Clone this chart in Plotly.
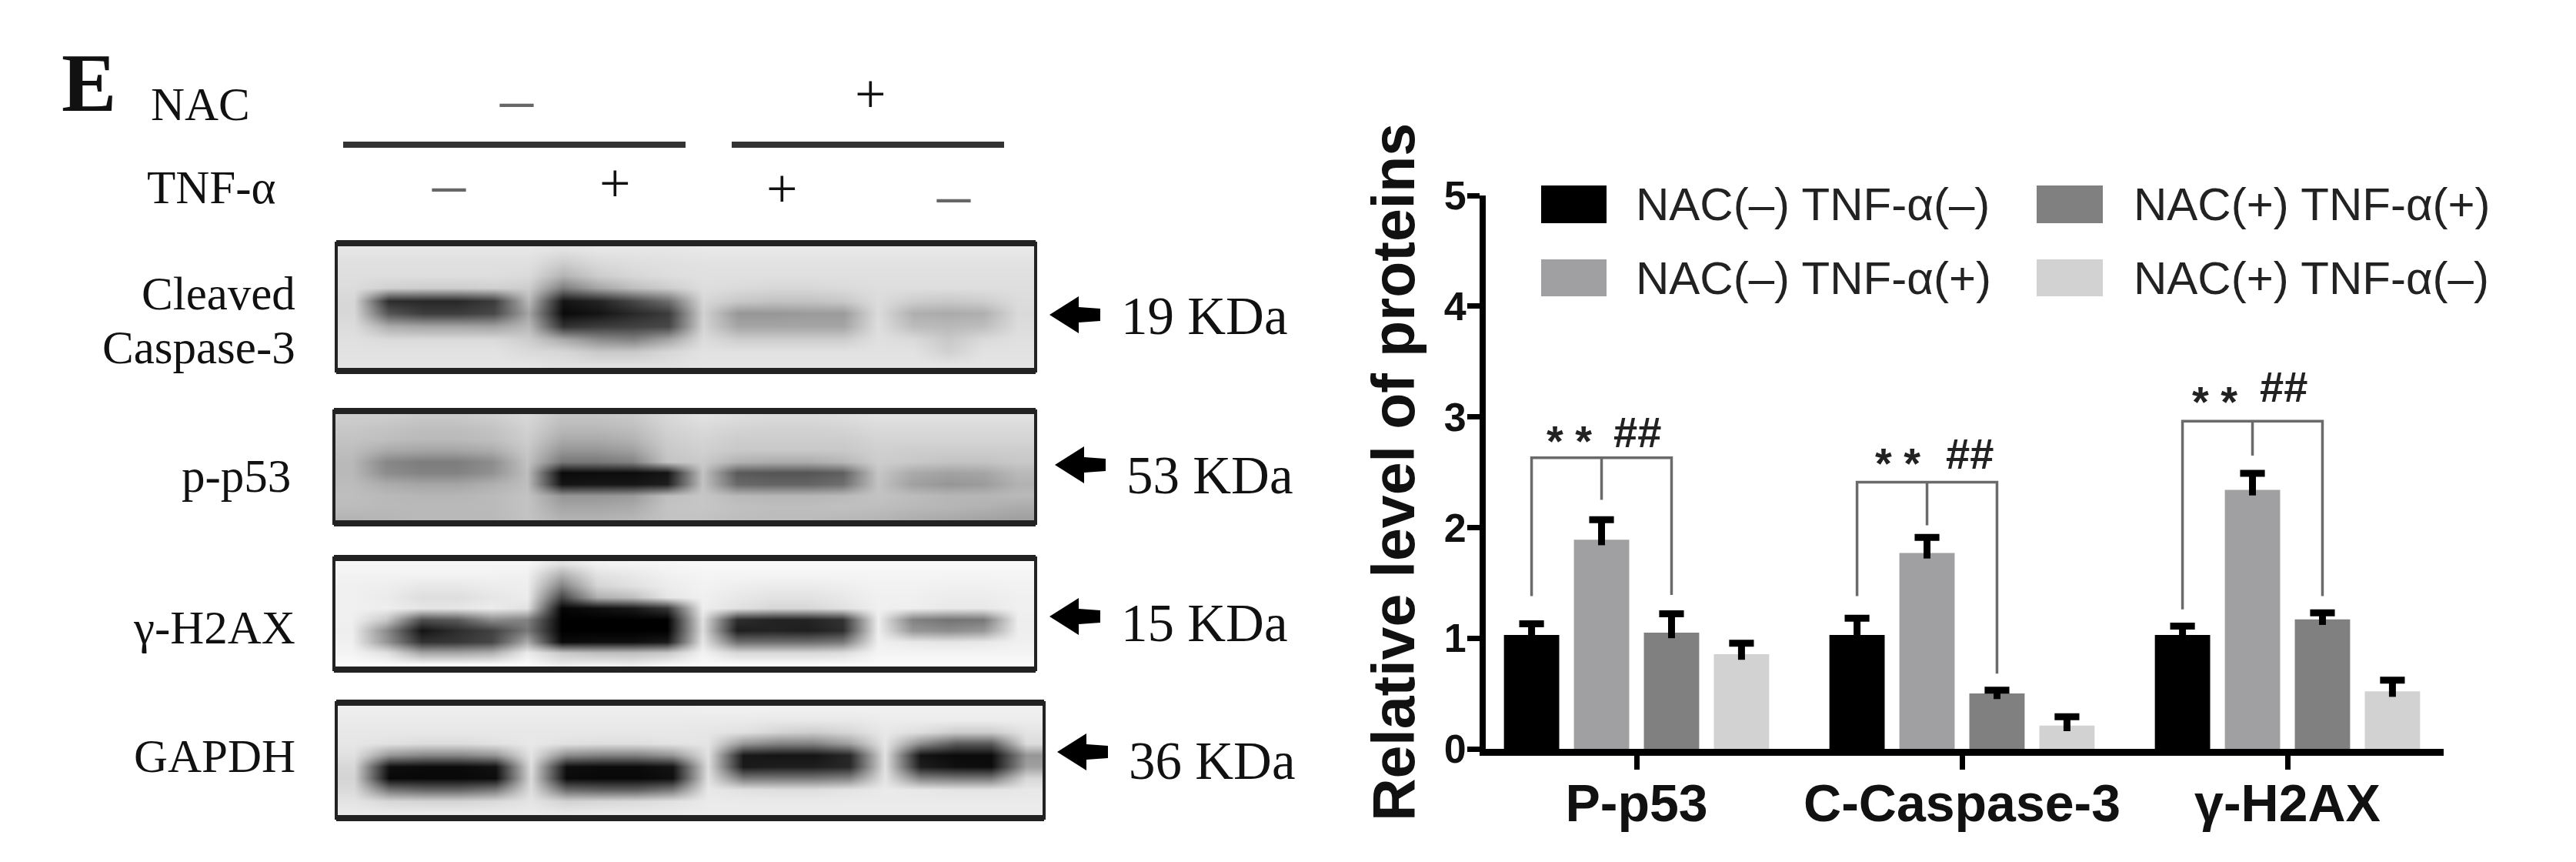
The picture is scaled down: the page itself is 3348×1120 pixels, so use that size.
"""Western blot panels with the bar chart of relative protein levels."""
import plotly.graph_objects as go

W, H = 3348, 1120
PAGE_MARGIN = 8  # the page puts this much white round the plot

# bar chart data
GROUPS = ["P-p53", "C-Caspase-3", "γ-H2AX"]
SERIES = ["NAC(–) TNF-α(–)", "NAC(–) TNF-α(+)", "NAC(+) TNF-α(+)", "NAC(+) TNF-α(–)"]
COLORS = ["#000000", "#a0a0a3", "#808080", "#d2d2d2"]
NEG_NEG = [1.03, 1.03, 1.03]
NEG_POS = [1.89, 1.77, 2.34]
POS_POS = [1.05, 0.50, 1.17]
POS_NEG = [0.855, 0.21, 0.52]
ERR_NEG_NEG = [0.10, 0.15, 0.08]
ERR_NEG_POS = [0.18, 0.14, 0.15]
ERR_POS_POS = [0.17, 0.03, 0.06]
ERR_POS_NEG = [0.10, 0.08, 0.10]

# significance brackets, one entry per group
BRACKET_TOP = [2.63, 2.41, 2.96]
BRACKET_LEFT_END = [1.38, 1.38, 1.26]
BRACKET_MID_END = [2.25, 2.02, 2.65]
BRACKET_RIGHT_END = [1.39, 0.68, 1.38]

# blot grey levels, 0 black to 255 white
CASPASE_GREY = [
    [230, 230, 230, 230, 230, 230, 226, 230, 230, 230, 232, 232, 232, 232, 232, 232, 232, 232, 232, 232],
    [224, 224, 224, 224, 224, 224, 205, 218, 222, 224, 226, 226, 226, 226, 226, 226, 226, 226, 226, 226],
    [222, 222, 222, 222, 222, 218, 180, 205, 215, 222, 224, 224, 224, 224, 224, 224, 224, 224, 224, 224],
    [220, 208, 205, 205, 208, 205, 125, 165, 190, 205, 222, 218, 215, 215, 218, 222, 222, 222, 222, 222],
    [215, 45, 40, 40, 60, 185, 20, 35, 70, 110, 215, 200, 195, 195, 200, 220, 205, 200, 205, 220],
    [215, 85, 60, 60, 72, 165, 10, 20, 40, 60, 210, 150, 150, 155, 155, 220, 175, 170, 175, 218],
    [220, 172, 165, 165, 162, 185, 50, 60, 65, 72, 212, 165, 165, 165, 165, 222, 188, 185, 190, 220],
    [224, 218, 218, 218, 218, 205, 170, 140, 130, 165, 220, 205, 205, 205, 205, 224, 218, 200, 218, 224],
    [226, 226, 226, 226, 226, 218, 215, 200, 200, 215, 226, 226, 226, 226, 226, 226, 226, 208, 226, 226],
    [228, 228, 228, 228, 228, 228, 224, 224, 224, 224, 228, 228, 228, 228, 228, 228, 228, 228, 228, 228],
]
P53_GREY = [
    [205, 205, 200, 200, 205, 215, 195, 195, 200, 215, 225, 220, 218, 218, 220, 225, 225, 225, 225, 225],
    [200, 195, 190, 190, 195, 210, 185, 185, 190, 210, 218, 212, 210, 210, 212, 218, 218, 218, 218, 218],
    [195, 190, 185, 185, 190, 205, 170, 170, 178, 205, 212, 205, 205, 205, 205, 212, 212, 212, 212, 212],
    [190, 170, 165, 165, 172, 200, 150, 150, 160, 200, 208, 200, 200, 200, 200, 208, 205, 205, 205, 205],
    [185, 135, 125, 125, 140, 195, 120, 120, 130, 195, 202, 178, 172, 172, 182, 205, 200, 195, 195, 200],
    [185, 140, 130, 130, 145, 190, 10, 12, 12, 20, 195, 90, 85, 85, 95, 198, 170, 162, 165, 185],
    [188, 172, 165, 165, 175, 190, 20, 22, 22, 30, 195, 105, 100, 100, 110, 195, 160, 150, 155, 178],
    [190, 185, 182, 182, 186, 195, 150, 150, 155, 190, 198, 185, 182, 182, 186, 195, 188, 182, 182, 185],
    [188, 185, 185, 185, 186, 195, 165, 165, 170, 195, 198, 192, 190, 190, 192, 190, 185, 182, 178, 172],
    [180, 182, 185, 185, 185, 195, 178, 178, 182, 195, 195, 190, 188, 188, 185, 182, 175, 170, 165, 160],
]
H2AX_GREY = [
    [246, 246, 246, 246, 246, 246, 225, 242, 244, 246, 248, 248, 248, 248, 248, 248, 248, 248, 248, 248],
    [242, 242, 242, 242, 242, 240, 175, 225, 232, 240, 244, 244, 244, 244, 244, 244, 244, 244, 244, 244],
    [240, 238, 232, 232, 236, 238, 130, 212, 225, 236, 242, 238, 235, 235, 238, 242, 242, 240, 240, 242],
    [240, 235, 222, 222, 230, 236, 70, 175, 190, 230, 240, 232, 226, 226, 232, 240, 240, 236, 236, 240],
    [240, 238, 230, 230, 236, 225, 5, 15, 25, 55, 238, 225, 215, 215, 225, 240, 238, 232, 232, 240],
    [240, 200, 80, 90, 140, 130, 0, 0, 0, 0, 225, 45, 35, 35, 50, 238, 130, 115, 120, 238],
    [238, 140, 20, 45, 65, 120, 0, 0, 0, 0, 222, 30, 35, 30, 45, 238, 150, 140, 150, 238],
    [240, 150, 50, 55, 70, 170, 10, 15, 15, 25, 230, 110, 110, 110, 120, 240, 232, 228, 232, 240],
    [244, 225, 165, 165, 175, 235, 200, 190, 190, 200, 242, 215, 215, 215, 220, 244, 244, 244, 244, 244],
    [250, 250, 250, 250, 250, 250, 235, 240, 235, 245, 250, 250, 250, 250, 250, 250, 250, 250, 250, 250],
]
GAPDH_GREY = [
    [238, 238, 238, 238, 238, 238, 238, 238, 238, 238, 240, 240, 240, 240, 240, 240, 240, 240, 240, 240],
    [234, 234, 234, 234, 234, 234, 234, 234, 234, 234, 234, 234, 232, 232, 232, 236, 236, 236, 236, 236],
    [232, 232, 232, 232, 232, 232, 232, 232, 232, 232, 230, 225, 212, 205, 215, 232, 222, 205, 205, 228],
    [230, 225, 220, 220, 225, 232, 225, 222, 222, 228, 228, 150, 130, 130, 160, 230, 140, 90, 90, 220],
    [225, 150, 135, 135, 150, 228, 140, 130, 130, 150, 225, 25, 20, 20, 40, 226, 20, 10, 10, 150],
    [215, 15, 10, 10, 18, 222, 15, 10, 10, 20, 222, 25, 30, 30, 40, 225, 30, 15, 12, 160],
    [212, 8, 8, 8, 12, 218, 10, 8, 8, 15, 225, 120, 120, 120, 130, 228, 130, 120, 120, 215],
    [218, 115, 100, 100, 120, 222, 105, 95, 95, 120, 232, 225, 222, 222, 228, 234, 232, 228, 228, 232],
    [228, 215, 212, 212, 218, 228, 210, 215, 218, 225, 234, 234, 234, 234, 234, 234, 234, 234, 234, 234],
    [234, 234, 234, 234, 234, 234, 232, 234, 234, 234, 236, 236, 236, 236, 236, 236, 236, 236, 236, 236],
]

# panel boxes in page pixels: x0, x1, y0, y1
PANELS = [
    (CASPASE_GREY, 437, 1346, 316, 482),
    (P53_GREY, 434, 1346, 534, 680),
    (H2AX_GREY, 434, 1346, 725, 870),
    (GAPDH_GREY, 437, 1357, 913, 1063),
]

# page pixels of the bar chart
AX_LEFT, AX_RIGHT, AX_TOP, AX_BOTTOM = 1931, 3176, 254, 973
CAT_PX = 423  # one category step
X0_PX = 2127  # centre of the first group
SLOT = 0.215  # one bar slot, in categories
CAP = 0.038  # half an error cap, in categories
FIG_W, FIG_H = W - 2 * PAGE_MARGIN, H - 2 * PAGE_MARGIN

fig = go.Figure()

values = [NEG_NEG, NEG_POS, POS_POS, POS_NEG]
errors = [ERR_NEG_NEG, ERR_NEG_POS, ERR_POS_POS, ERR_POS_NEG]
for name, color, ys in zip(SERIES, COLORS, values):
    fig.add_trace(go.Bar(x=[0, 1, 2], y=ys, name=name, showlegend=False,
                         marker={"color": color, "line": {"width": 0}}))

# error bars as T shapes, error_y would also put a cap at the foot of the stem
sx, sy = [], []
for s, (ys, err) in enumerate(zip(values, errors)):
    for g in range(3):
        cx = g + (s - 1.5) * SLOT
        top = ys[g] + err[g]
        sx += [cx, cx, None, cx - CAP, cx + CAP, None]
        sy += [ys[g] - 0.05, top, None, top, top, None]
fig.add_trace(go.Scatter(x=sx, y=sy, mode="lines", showlegend=False, hoverinfo="skip",
                         line={"color": "#000000", "width": 9}))

# brackets go from the first bar of a group to its third, through the second
bx, by = [], []
for g in range(3):
    left, mid, right = g - 1.5 * SLOT, g - 0.5 * SLOT, g + 0.5 * SLOT
    bx += [left, left, right, right, None, mid, mid, None]
    by += [BRACKET_LEFT_END[g], BRACKET_TOP[g], BRACKET_TOP[g], BRACKET_RIGHT_END[g], None,
           BRACKET_TOP[g], BRACKET_MID_END[g], None]
fig.add_trace(go.Scatter(x=bx, y=by, mode="lines", showlegend=False, hoverinfo="skip",
                         line={"color": "#6a6a6a", "width": 3.5}))

# blots on a second pair of axes that counts in page pixels
for z, x0, x1, y0, y1 in PANELS:
    ny, nx = len(z), len(z[0])
    fig.add_trace(go.Heatmap(
        z=z, xaxis="x2", yaxis="y2", zmin=0, zmax=255, showscale=False, zsmooth="best",
        colorscale=[[0, "#000000"], [1, "#ffffff"]], hoverinfo="skip",
        x=[x0 + (x1 - x0) * (i + 0.5) / nx for i in range(nx)],
        y=[y0 + (y1 - y0) * (j + 0.5) / ny for j in range(ny)],
    ))

shapes = []


def pline(x0, y0, x1, y1, color, width):
    shapes.append({"type": "line", "xref": "x2", "yref": "y2", "x0": x0, "y0": y0, "x1": x1, "y1": y1,
                   "line": {"color": color, "width": width}})


def prect(x0, y0, x1, y1, color):
    shapes.append({"type": "rect", "xref": "x2", "yref": "y2", "x0": x0, "y0": y0, "x1": x1, "y1": y1,
                   "fillcolor": color, "line": {"width": 0}})


def arrow(x, y):
    path = (f"M {x} {y} L {x + 38} {y - 24} L {x + 38} {y - 10} L {x + 66} {y - 8} "
            f"L {x + 66} {y + 8} L {x + 38} {y + 10} L {x + 38} {y + 24} Z")
    shapes.append({"type": "path", "xref": "x2", "yref": "y2", "path": path, "fillcolor": "#000000",
                   "line": {"width": 0}})


for _, x0, x1, y0, y1 in PANELS:
    shapes.append({"type": "rect", "xref": "x2", "yref": "y2", "x0": x0, "y0": y0, "x1": x1, "y1": y1,
                   "line": {"color": "#222222", "width": 4}})
    pline(x0, y0, x1, y0, "#222222", 8)
    pline(x0, y1, x1, y1, "#222222", 8)

pline(446, 188, 891, 188, "#333333", 8)
pline(951, 188, 1305, 188, "#333333", 8)
arrow(1364, 409)
arrow(1371, 604)
arrow(1364, 801)
arrow(1374, 977)

# legend keys
prect(2003, 241, 2088, 290, COLORS[0])
prect(2003, 337, 2088, 385, COLORS[1])
prect(2647, 241, 2733, 290, COLORS[2])
prect(2647, 337, 2733, 385, COLORS[3])

annotations = []


def label(x, y, text, size, anchor="center", family="Liberation Serif", color="#111111"):
    annotations.append({"xref": "x2", "yref": "y2", "x": x, "y": y, "text": text, "showarrow": False,
                        "xanchor": anchor, "yanchor": "middle", "font": {"family": family, "size": size, "color": color}})


label(78, 108, "<b>E</b>", 107, "left")
label(194, 135, "NAC", 61, "left")
label(189, 243, "TNF-α", 61, "left")
label(671, 128, "–", 86, color="#666666")
label(1131, 122, "+", 72)
label(583, 238, "–", 86, color="#666666")
label(799, 238, "+", 72)
label(1016, 245, "+", 72)
label(1239, 252, "–", 86, color="#666666")

label(386, 381, "Cleaved", 61, "right")
label(386, 451, "Caspase-3", 61, "right")
label(380, 618, "p-p53", 61, "right")
label(386, 815, "γ-H2AX", 61, "right")
label(386, 982, "GAPDH", 61, "right")

label(1455, 411, "19 KDa", 69, "left")
label(1462, 618, "53 KDa", 69, "left")
label(1455, 810, "15 KDa", 69, "left")
label(1465, 989, "36 KDa", 69, "left")

for text, x, y in zip(SERIES, [2124, 2124, 2771, 2771], [265, 361, 265, 361]):
    label(x, y, text, 60, "left", "Liberation Sans", "#222222")

for x, y in [(2039, 572), (2466, 601), (2878, 521)]:
    label(x, y, "<b>* *</b>", 56, family="Liberation Sans", color="#222222")
for x, y in [(2128, 561), (2560, 589), (2968, 502)]:
    label(x, y, "<b>##</b>", 56, family="Liberation Sans", color="#222222")

fig.update_layout(
    width=FIG_W, height=FIG_H, margin={"l": 0, "r": 0, "t": 0, "b": 0, "pad": 0}, autosize=False,
    paper_bgcolor="#ffffff", plot_bgcolor="rgba(0,0,0,0)", barmode="group", bargap=0.14, bargroupgap=0.21,
    shapes=shapes, annotations=annotations,
    font={"family": "Liberation Sans", "color": "#111111"},
    xaxis={
        "domain": [(AX_LEFT - PAGE_MARGIN) / FIG_W, (AX_RIGHT - PAGE_MARGIN) / FIG_W], "automargin": False,
        "range": [(AX_LEFT - X0_PX) / CAT_PX, (AX_RIGHT - X0_PX) / CAT_PX],
        "tickmode": "array", "tickvals": [0, 1, 2], "ticktext": GROUPS, "ticklabelstandoff": -15,
        "tickfont": {"size": 68, "weight": 700, "color": "#111111"},
        "showgrid": False, "zeroline": False, "showline": True, "linecolor": "#000000", "linewidth": 9,
        "ticks": "outside", "ticklen": 18, "tickwidth": 7, "tickcolor": "#000000",
    },
    yaxis={
        "domain": [1 - (AX_BOTTOM - PAGE_MARGIN) / FIG_H, 1 - (AX_TOP - PAGE_MARGIN) / FIG_H],
        "range": [0, 5], "automargin": False,
        "tickmode": "array", "tickvals": [0, 1, 2, 3, 4, 5], "ticklabelstandoff": -9,
        "tickfont": {"size": 52, "weight": 700, "color": "#111111"},
        "showgrid": False, "zeroline": False, "showline": True, "linecolor": "#000000", "linewidth": 8,
        "ticks": "outside", "ticklen": 16, "tickwidth": 7, "tickcolor": "#000000",
        "title": {"text": "Relative level of proteins", "standoff": 16,
                  "font": {"size": 77, "weight": 700, "color": "#111111"}},
    },
    xaxis2={"domain": [0, 1], "range": [PAGE_MARGIN, W - PAGE_MARGIN], "visible": False, "anchor": "y2", "automargin": False},
    yaxis2={"domain": [0, 1], "range": [H - PAGE_MARGIN, PAGE_MARGIN], "visible": False, "anchor": "x2", "automargin": False},
)

fig.write_html("out.html")
